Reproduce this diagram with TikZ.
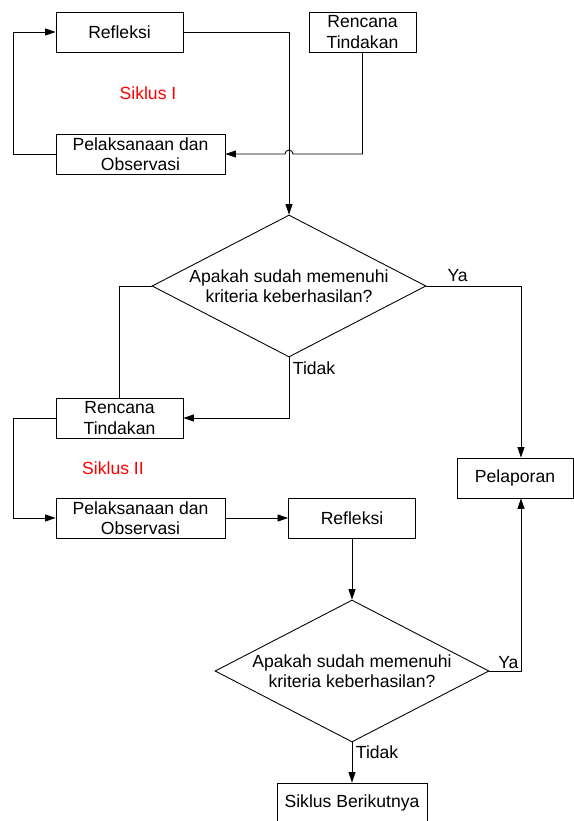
\documentclass[tikz,border=0pt]{standalone}
\usepackage{fontspec}
\setmainfont{Liberation Sans}
\usetikzlibrary{shapes.geometric,arrows.meta,calc}
\definecolor{SiklusRed}{HTML}{FF0000}
\newcommand{\flowfont}{\fontsize{10}{11.6}\selectfont}

\begin{document}
\begin{tikzpicture}[x=0.02cm,y=-0.02cm,line width=0.5pt,
    box/.style={draw,minimum height=0.8cm,align=center,inner sep=1pt,font=\flowfont},
    decision/.style={draw,diamond,aspect=1.93,inner sep=0pt,minimum width=5.48cm,
      minimum height=2.84cm,align=center,font=\flowfont},
    arr/.style={-{Triangle[length=6pt,width=4pt]}},
    lbl/.style={font=\flowfont,inner sep=2pt}]
   \useasboundingbox (0,0) rectangle (574,821);

   \node[box,minimum width=2.54cm] (ref1) at (119.5,32) {Refleksi};
   \node[box,minimum width=2.14cm] (ren1) at (362.5,32) {Rencana\\Tindakan};
   \node[box,minimum width=3.38cm] (pel1) at (140.5,154) {Pelaksanaan dan\\Observasi};
   \node[lbl,SiklusRed] (sik1) at (148,93) {Siklus I};

   \node[decision] (dec1) at (289,286) {Apakah sudah memenuhi\\kriteria keberhasilan?};

   \node[box,minimum width=2.54cm] (ren2) at (119.5,418) {Rencana\\Tindakan};
   \node[lbl,SiklusRed] (sik2) at (113,468) {Siklus II};
   \node[box,minimum width=3.38cm] (pel2) at (140.5,518) {Pelaksanaan dan\\Observasi};
   \node[box,minimum width=2.54cm] (ref2) at (352,518) {Refleksi};
   \node[box,minimum width=2.32cm] (lap) at (515,478) {Pelaporan};
   \coordinate (lapin) at ([xshift=3.4pt]lap.north);
   \coordinate (lapout) at ([xshift=3.4pt]lap.south);

   \node[decision] (dec2) at (352,671) {Apakah sudah memenuhi\\kriteria keberhasilan?};
   \node[box,minimum width=3cm] (next) at (352,803) {Siklus Berikutnya};

   \draw[arr] (pel1.west) -- ++(-42,0) |- (ref1.west);
   \draw[arr] (ref1.east) -| (dec1.north);
   \draw[arr] (ren1.south) -- (ren1.south |- pel1.east)
    -- ($(dec1.north |- pel1.east)+(4,0)$)
    arc[start angle=0,end angle=180,radius=2.27pt] -- (pel1.east);

   \draw (dec1.west) -| (ren2.north);
   \draw[arr] (dec1.south) -- node[lbl,pos=0.17,right]{Tidak} (dec1.south |- ren2.east)
    -- (ren2.east);
   \draw[arr] (dec1.east) -- node[lbl,pos=0.33,above]{Ya} (dec1.east -| lapin) -- (lapin);

   \draw[arr] (ren2.west) -- ++(-42,0) |- (pel2.west);
   \draw[arr] (pel2.east) -- (ref2.west);
   \draw[arr] (ref2.south) -- (dec2.north);

   \draw[arr] (dec2.east) -- node[lbl,pos=0.6,above,inner sep=1pt]{Ya} (dec2.east -| lapout)
    -- (lapout);
   \draw[arr] (dec2.south) -- node[lbl,pos=0.25,right]{Tidak} (next.north);
\end{tikzpicture}
\end{document}
